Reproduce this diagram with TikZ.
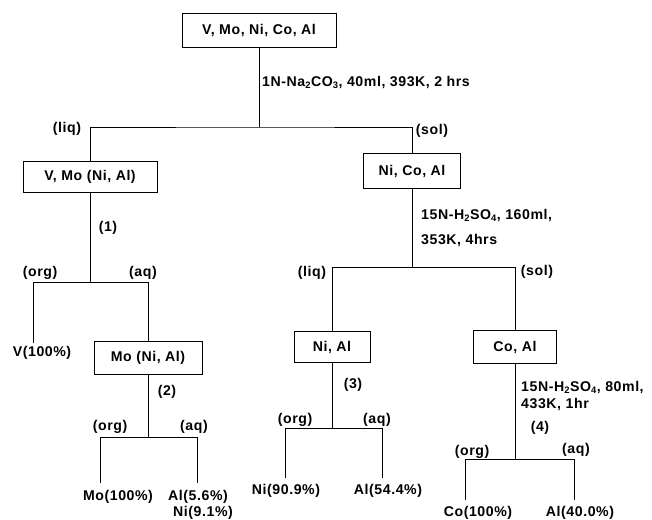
\documentclass[tikz,border=0pt]{standalone}
\usepackage{fontspec}
\setmainfont{Liberation Sans}
\newfontfamily\lblfont[LetterSpace=4]{Liberation Sans}
\begin{document}
\begin{tikzpicture}[x=0.85pt,y=-0.85pt,
  bx/.style 2 args={draw, line width=0.75pt, minimum width=#1*0.85pt, minimum height=#2*0.85pt, inner sep=0pt, font=\lblfont\bfseries\fontsize{12}{14}\selectfont},
  lbl/.style={inner sep=0pt, font=\lblfont\bfseries\fontsize{12}{14}\selectfont},
  ln/.style={line width=0.75pt}]
\useasboundingbox (0,0) rectangle (652,519);
% boxes
\node[bx={154}{34}] (top) at (259,30) {V,\ Mo,\ Ni,\ Co,\ Al};
\node[bx={134}{31}] (vmo) at (90,177) {V,\ Mo\ (Ni,\ Al)};
\node[bx={97}{35}] (ncoa) at (412,171) {Ni,\ Co,\ Al};
\node[bx={108}{33}] (mo) at (148,358) {Mo\ (Ni,\ Al)};
\node[bx={76}{31}] (nial) at (332,347) {Ni,\ Al};
\node[bx={83}{33}] (coal) at (515,347) {Co,\ Al};
% junctions and free ends
\coordinate (j1) at (259,127);
\coordinate (j2) at (90,282);
\coordinate (e1) at (33,343);
\coordinate (j3) at (148,437);
\coordinate (e2) at (100,483);
\coordinate (e3) at (197,483);
\coordinate (j4) at (412,267);
\coordinate (j5) at (332,428);
\coordinate (e4) at (285,478);
\coordinate (e5) at (382,478);
\coordinate (j6) at (515,459);
\coordinate (e6) at (465,500);
\coordinate (e7) at (574,500);
% connectors
\draw[ln] (top) -- (j1);
\draw[ln] (vmo.north) |- (j1) -| (ncoa.north);
\draw[ln] (vmo) -- (j2);
\draw[ln] (e1) |- (j2) -| (mo.north);
\draw[ln] (mo) -- (j3);
\draw[ln] (e2) |- (j3) -| (e3);
\draw[ln] (ncoa) -- (j4);
\draw[ln] (nial.north) |- (j4) -| (coal.north);
\draw[ln] (nial) -- (j5);
\draw[ln] (e4) |- (j5) -| (e5);
\draw[ln] (coal) -- (j6);
\draw[ln] (e6) |- (j6) -| (e7);
% labels
\node[lbl, anchor=west] (c1) at (262,82) {1N-Na\textsubscript{2}CO\textsubscript{3}, 40ml, 393K, 2 hrs};
\node[lbl] (liq1) at (67,129) {(liq)};
\node[lbl] (sol1) at (432,131) {(sol)};
\node[lbl] (p1) at (108,228) {(1)};
\node[lbl] (org1) at (40,273) {(org)};
\node[lbl] (aq1) at (143,273) {(aq)};
\node[lbl] (v100) at (42,353) {V(100\%)};
\node[lbl] (p2) at (167,392) {(2)};
\node[lbl] (org2) at (110,427) {(org)};
\node[lbl] (aq2) at (194,427) {(aq)};
\node[lbl] (mo100) at (118,497) {Mo(100\%)};
\node[lbl] (al56) at (198,497) {Al(5.6\%)};
\node[lbl] (ni91) at (203,513) {Ni(9.1\%)};
\node[lbl, anchor=west] (c2) at (421,215) {15N-H\textsubscript{2}SO\textsubscript{4}, 160ml,};
\node[lbl, anchor=west] (c3) at (421,240) {353K, 4hrs};
\node[lbl] (liq2) at (312,273) {(liq)};
\node[lbl] (sol2) at (537,272) {(sol)};
\node[lbl] (p3) at (353,385) {(3)};
\node[lbl] (org3) at (295,420) {(org)};
\node[lbl] (aq3) at (377,420) {(aq)};
\node[lbl] (ni909) at (286,491) {Ni(90.9\%)};
\node[lbl] (al544) at (388,491) {Al(54.4\%)};
\node[lbl, anchor=west] (c4) at (521,387) {15N-H\textsubscript{2}SO\textsubscript{4}, 80ml,};
\node[lbl, anchor=west] (c5) at (521,404) {433K, 1hr};
\node[lbl] (p4) at (540,428) {(4)};
\node[lbl] (org4) at (472,452) {(org)};
\node[lbl] (aq4) at (576,450) {(aq)};
\node[lbl] (co100) at (478,513) {Co(100\%)};
\node[lbl] (al400) at (580,513) {Al(40.0\%)};
\end{tikzpicture}
\end{document}
